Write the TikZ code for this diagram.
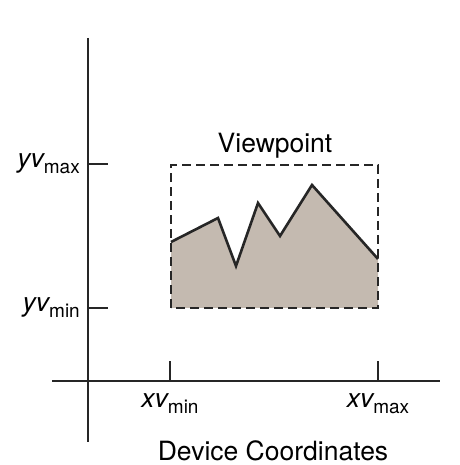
\documentclass[tikz,border=0pt]{standalone}
\usepackage{fontspec}
\setmainfont{TeX Gyre Heros}
\usepackage{tikz}
\usetikzlibrary{positioning}
\definecolor{areafill}{RGB}{196,186,176}
\newcommand{\lblfont}{\fontsize{26.5}{30}\selectfont}
\newcommand{\subfont}{\fontsize{19}{22}\selectfont}
\newcommand{\vsub}[2]{{\itshape #1}\raisebox{-0.4ex}{\subfont #2}}

\begin{document}
\begin{tikzpicture}[
            x=1pt, y=1pt,
            axis/.style ={line width=1.6pt, draw=black!85},
            tick/.style ={line width=1.2pt, draw=black!85},
            vbox/.style ={dashed, dash pattern=on 9pt off 5pt, line width=1.3pt, draw=black!85},
            area/.style ={fill=areafill, draw=none},
            edge/.style ={line width=2.6pt, draw=black!85, line join=miter},
            lbl/.style  ={font=\lblfont, inner sep=1pt}
        ]
        \useasboundingbox (0,0) rectangle (459,465);

        %% ---- axes ---------------------------------------------------------
        \coordinate (ytop) at (88,427);
        \coordinate (ybot) at (88,23);
        \coordinate (xleft) at (52,84);
        \coordinate (xright) at (440,84);
        \draw[axis] (ytop) -- (ybot);
        \draw[axis] (xleft) -- (xright);

        % ticks
        \coordinate (ymax) at (88,301);
        \coordinate (ymin) at (88,157);
        \coordinate (xmin) at (170,84);
        \coordinate (xmax) at (378,84);
        \draw[tick] (ymax) -- ++(20,0);
        \draw[tick] (ymin) -- ++(20,0);
        \draw[tick] (xmin) -- ++(0,20);
        \draw[tick] (xmax) -- ++(0,20);

        % tick labels
        \node[lbl, anchor=base east] (lymax) at (81,297) {\vsub{yv}{max}};
        \node[lbl, anchor=base east] (lymin) at (81,153) {\vsub{yv}{min}};
        \node[lbl, anchor=base] (lxmin) at (170,57) {\vsub{xv}{min}};
        \node[lbl, anchor=base] (lxmax) at (378,57) {\vsub{xv}{max}};

        %% ---- viewport with clipped outline -----------------------------------
        \fill[area] (171,157) -- (171,223) -- (218,247) -- (236,199)
            -- (258,262) -- (280,229) -- (312,280) -- (378,206)
            -- (378,157) -- cycle;
        \draw[vbox] (171,157) rectangle (378,300);
        \draw[edge] (171,223) -- (218,247) -- (236,199) -- (258,262)
            -- (280,229) -- (312,280) -- (378,206);

        \node[lbl, anchor=base] (vp) at (275,312) {Viewpoint};
        \node[lbl, anchor=base] (dc) at (273,5) {Device Coordinates};
    \end{tikzpicture}
\end{document}
